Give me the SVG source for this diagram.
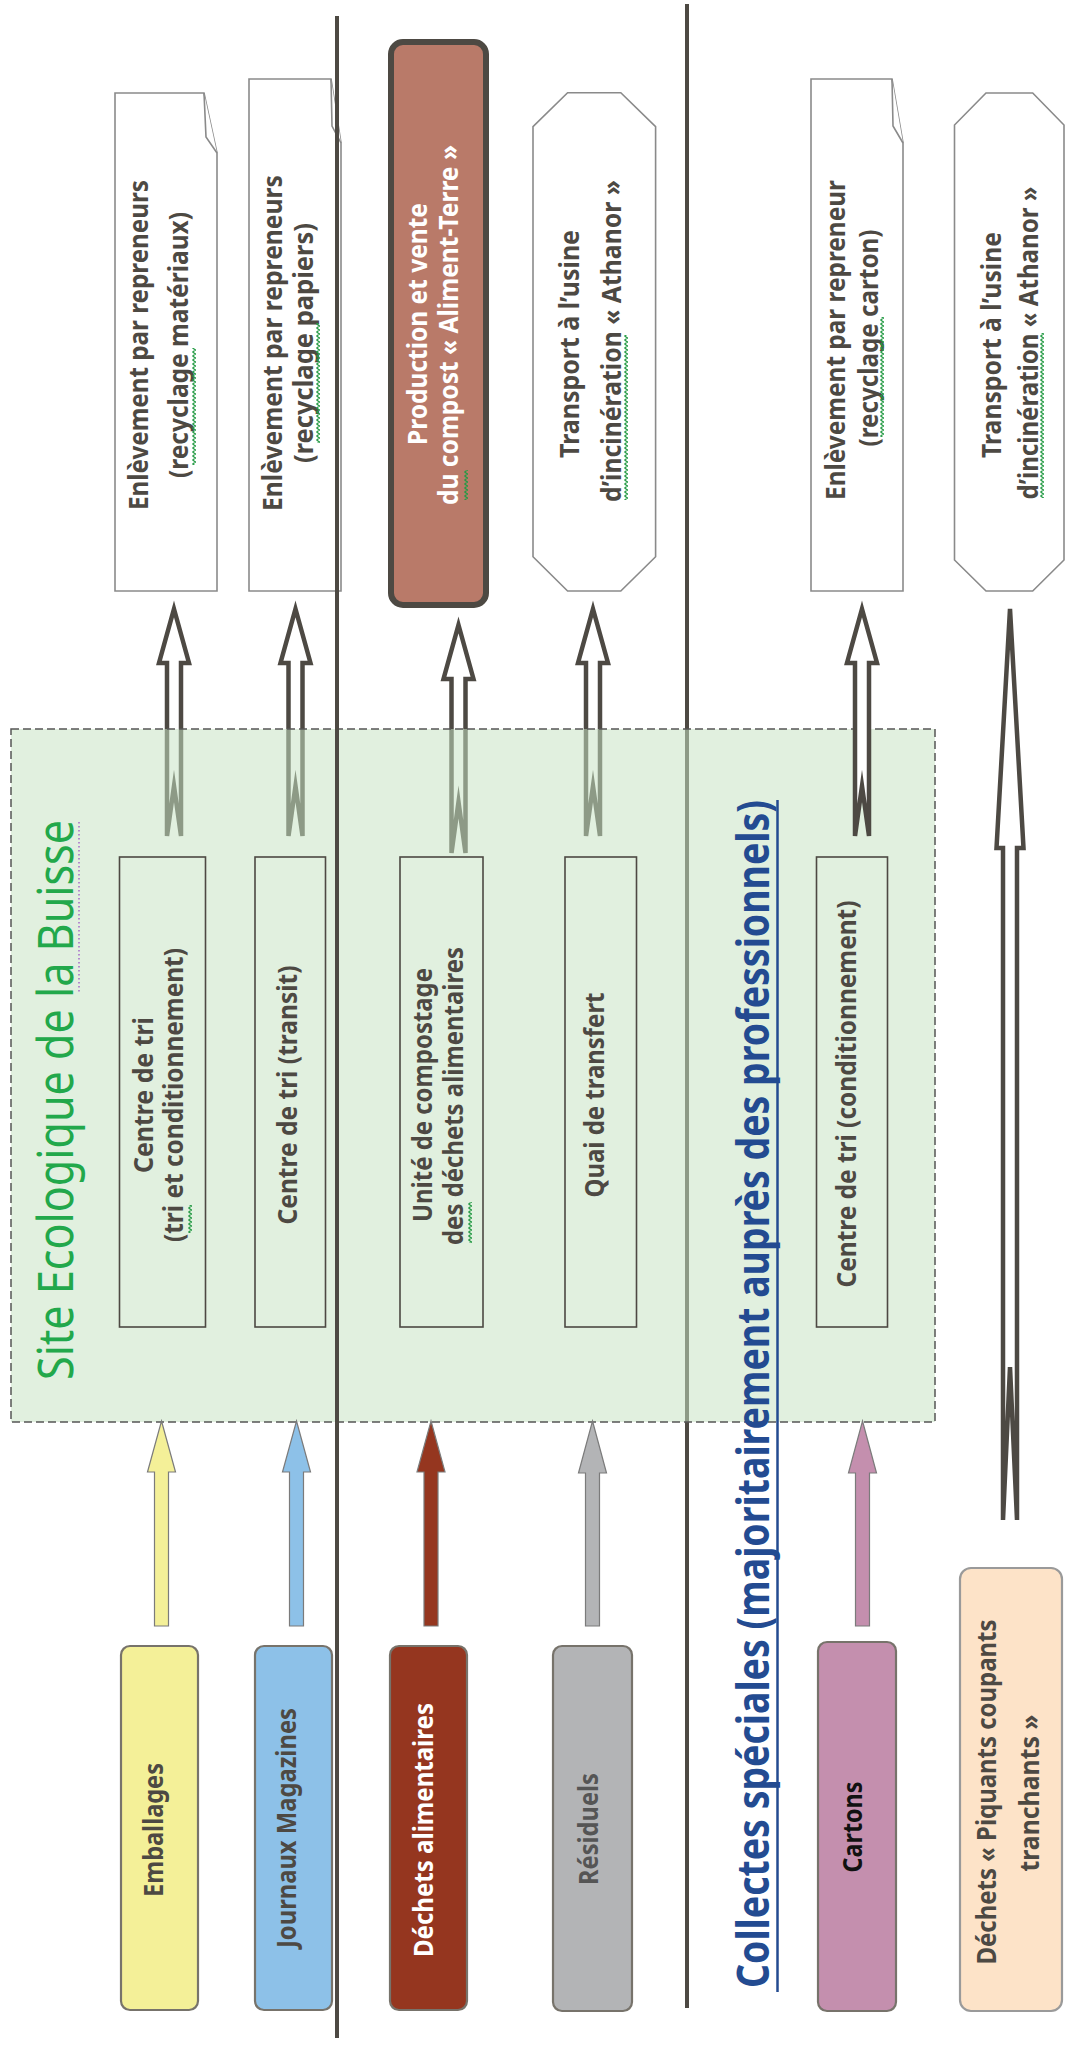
<svg xmlns="http://www.w3.org/2000/svg" width="1065" height="2045" viewBox="0 0 1065 2045">
<defs>
<style>
.lbl{font-family:"Noto Sans","Liberation Sans",sans-serif;font-weight:bold;font-size:27px;fill:#4d4943;text-anchor:middle}
.wt{fill:#ffffff}
.bk{fill:#111111}
.doc{fill:#ffffff;stroke:#8a8a8a;stroke-width:1.6;stroke-linejoin:miter}
.inner{fill:none;stroke:#4d4943;stroke-width:1.6}
.hollow{fill:#ffffff;stroke:#4d4943;stroke-width:4.5;stroke-linejoin:miter;stroke-miterlimit:10}
.src{stroke:#77736b;stroke-width:2.2}
.sarrow{stroke:#7b7b7b;stroke-width:1.2}
.sep{stroke:#4d4943;stroke-width:4}
.sq{fill:url(#wavy)}
</style>
<pattern id="wavy" patternUnits="userSpaceOnUse" width="4" height="4">
<path d="M0.5,0 L3.5,2 L0.5,4" fill="none" stroke="#239a43" stroke-width="1.2"/>
</pattern>
</defs>
<rect width="1065" height="2045" fill="#ffffff"/>

<g id="separator-2"><line class="sep" x1="687" y1="4" x2="687" y2="2008"/></g>

<g id="connectors">
<path class="hollow" d="M174,609 L189,663 L181,663 L181,836 L174,786 L167,836 L167,663 L159,663 Z"/>
<path class="hollow" d="M295.5,609 L310.5,663 L302.5,663 L302.5,836 L295.5,786 L288.5,836 L288.5,663 L280.5,663 Z"/>
<path class="hollow" d="M458.5,625 L473.5,679 L465.5,679 L465.5,853 L458.5,802 L451.5,853 L451.5,679 L443.5,679 Z"/>
<path class="hollow" d="M593,609 L608,663 L600,663 L600,836 L593,786 L586,836 L586,663 L578,663 Z"/>
</g>

<g id="site-ecologique">
<rect x="11" y="729" width="924" height="693" fill="#c6e3c2" fill-opacity="0.53" stroke="#555555" stroke-width="1.5" stroke-dasharray="8 4"/>
<text transform="translate(73,1100) rotate(-90)" textLength="560" lengthAdjust="spacingAndGlyphs" style="font-family:'Noto Sans','Liberation Sans',sans-serif;font-size:49px;fill:#22a84b;text-anchor:middle">Site Ecologique de la Buisse</text>
<line x1="79" y1="822" x2="79" y2="993" stroke="#a05ec8" stroke-width="1.4" stroke-dasharray="1.5 2.5"/>
</g>

<g id="connectors-top">
<path class="hollow" d="M862,609 L877,663 L869,663 L869,836 L862,786 L855,836 L855,663 L847,663 Z"/>
<path class="hollow" d="M1010,609 L1023.5,848 L1017,848 L1017,1520 L1010,1367 L1003,1520 L1003,848 L996.5,848 Z"/>
<path class="sarrow" fill="#f4f098" d="M161.5,1421 L175.5,1472 L168.5,1472 L168.5,1626 L154.5,1626 L154.5,1472 L147.5,1472 Z"/>
<path class="sarrow" fill="#8dc1e8" d="M296.5,1421 L310.5,1472 L303.5,1472 L303.5,1626 L289.5,1626 L289.5,1472 L282.5,1472 Z"/>
<path class="sarrow" fill="#95361f" d="M431,1421 L445,1472 L438,1472 L438,1626 L424,1626 L424,1472 L417,1472 Z"/>
<path class="sarrow" fill="#b3b4b6" d="M592.5,1421 L606.5,1473 L599.5,1473 L599.5,1626 L585.5,1626 L585.5,1473 L578.5,1473 Z"/>
<path class="sarrow" fill="#c48fae" d="M862.5,1421 L876.5,1473 L869.5,1473 L869.5,1626 L855.5,1626 L855.5,1473 L848.5,1473 Z"/>
</g>

<g id="doc-materiaux">
<path class="doc" d="M115,93 H204 L217,153 V591 H115 Z"/>
<path class="doc" d="M204,93 L206,137 L217,153"/>
<text class="lbl" transform="translate(148,345) rotate(-90)" textLength="330" lengthAdjust="spacingAndGlyphs">Enlèvement par repreneurs</text>
<text class="lbl" transform="translate(188,345) rotate(-90)" textLength="266" lengthAdjust="spacingAndGlyphs">(recyclage matériaux)</text>
</g>
<g id="doc-papiers">
<path class="doc" d="M249,79 H331 L341,143 V591 H249 Z"/>
<path class="doc" d="M331,79 L332,126 L341,143"/>
<text class="lbl" transform="translate(282,343) rotate(-90)" textLength="336" lengthAdjust="spacingAndGlyphs">Enlèvement par repreneurs</text>
<text class="lbl" transform="translate(313,343) rotate(-90)" textLength="240" lengthAdjust="spacingAndGlyphs">(recyclage papiers)</text>
</g>
<g id="production-compost">
<rect x="391" y="42" width="95" height="563" rx="12" fill="#b97a69" stroke="#4d4943" stroke-width="6"/>
<text class="lbl wt" transform="translate(427,324) rotate(-90)" textLength="242" lengthAdjust="spacingAndGlyphs">Production et vente</text>
<text class="lbl wt" transform="translate(458,325) rotate(-90)" textLength="360" lengthAdjust="spacingAndGlyphs">du compost « Aliment-Terre »</text>
</g>
<g id="transport-athanor-1">
<polygon class="doc" points="567.6,92.7 620.8,92.7 655.6,126.7 655.6,556.7 620.8,591 567.6,591 533,556.7 533,126.7"/>
<text class="lbl" transform="translate(579,344) rotate(-90)" textLength="228" lengthAdjust="spacingAndGlyphs">Transport à l’usine</text>
<text class="lbl" transform="translate(621,341) rotate(-90)" textLength="322" lengthAdjust="spacingAndGlyphs">d’incinération « Athanor »</text>
</g>
<g id="doc-carton">
<path class="doc" d="M811,79 H892 L903,143 V591 H811 Z"/>
<path class="doc" d="M892,79 L893,126 L903,143"/>
<text class="lbl" transform="translate(845,340) rotate(-90)" textLength="320" lengthAdjust="spacingAndGlyphs">Enlèvement par repreneur</text>
<text class="lbl" transform="translate(878,338) rotate(-90)" textLength="217" lengthAdjust="spacingAndGlyphs">(recyclage carton)</text>
</g>
<g id="transport-athanor-2">
<polygon class="doc" points="986,93 1032.7,93 1064,125 1064,560 1032.7,591 986,591 954.5,560 954.5,125"/>
<text class="lbl" transform="translate(1001,345) rotate(-90)" textLength="226" lengthAdjust="spacingAndGlyphs">Transport à l’usine</text>
<text class="lbl" transform="translate(1038,343) rotate(-90)" textLength="313" lengthAdjust="spacingAndGlyphs">d’incinération « Athanor »</text>
</g>

<g id="centre-tri-conditionnement">
<rect class="inner" x="119.5" y="857" width="86" height="470"/>
<text class="lbl" transform="translate(153,1095) rotate(-90)" textLength="156" lengthAdjust="spacingAndGlyphs">Centre de tri</text>
<text class="lbl" transform="translate(183,1095) rotate(-90)" textLength="294" lengthAdjust="spacingAndGlyphs">(tri et conditionnement)</text>
</g>
<g id="centre-tri-transit">
<rect class="inner" x="255" y="857" width="70.5" height="470"/>
<text class="lbl" transform="translate(297,1095) rotate(-90)" textLength="259" lengthAdjust="spacingAndGlyphs">Centre de tri (transit)</text>
</g>
<g id="unite-compostage">
<rect class="inner" x="400" y="857" width="83" height="470"/>
<text class="lbl" transform="translate(432,1095) rotate(-90)" textLength="254" lengthAdjust="spacingAndGlyphs">Unité de compostage</text>
<text class="lbl" transform="translate(463,1096) rotate(-90)" textLength="298" lengthAdjust="spacingAndGlyphs">des déchets alimentaires</text>
</g>
<g id="quai-transfert">
<rect class="inner" x="565" y="857" width="71.5" height="470"/>
<text class="lbl" transform="translate(604,1095) rotate(-90)" textLength="205" lengthAdjust="spacingAndGlyphs">Quai de transfert</text>
</g>
<g id="centre-tri-carton">
<rect class="inner" x="816.5" y="857" width="71" height="470"/>
<text class="lbl" transform="translate(856,1094) rotate(-90)" textLength="387" lengthAdjust="spacingAndGlyphs">Centre de tri (conditionnement)</text>
</g>

<g id="src-emballages">
<rect class="src" x="121" y="1646" width="77" height="364" rx="9" fill="#f4f098"/>
<text class="lbl" transform="translate(163,1830) rotate(-90)" textLength="134" lengthAdjust="spacingAndGlyphs">Emballages</text>
</g>
<g id="src-journaux">
<rect class="src" x="255" y="1646" width="77" height="364" rx="9" fill="#8dc1e8"/>
<text class="lbl" transform="translate(296,1828) rotate(-90)" textLength="240" lengthAdjust="spacingAndGlyphs">Journaux Magazines</text>
</g>
<g id="src-alimentaires">
<rect class="src" x="390" y="1646" width="77" height="364" rx="9" fill="#95361f"/>
<text class="lbl wt" transform="translate(433,1830) rotate(-90)" textLength="254" lengthAdjust="spacingAndGlyphs">Déchets alimentaires</text>
</g>
<g id="src-residuels">
<rect class="src" x="553" y="1646" width="79" height="365" rx="9" fill="#b3b4b6"/>
<text class="lbl" transform="translate(598,1829) rotate(-90)" textLength="112" lengthAdjust="spacingAndGlyphs" style="fill:#555555">Résiduels</text>
</g>
<g id="src-cartons">
<rect class="src" x="818" y="1642" width="78" height="369" rx="9" fill="#c48fae"/>
<text class="lbl bk" transform="translate(862,1827) rotate(-90)" textLength="91" lengthAdjust="spacingAndGlyphs">Cartons</text>
</g>
<g id="src-piquants">
<rect x="960" y="1568" width="102" height="443" rx="11" fill="#fde3c8" stroke="#9a9a9a" stroke-width="2.2"/>
<text class="lbl" transform="translate(996,1792) rotate(-90)" textLength="345" lengthAdjust="spacingAndGlyphs">Déchets « Piquants coupants</text>
<text class="lbl" transform="translate(1039,1793) rotate(-90)" textLength="157" lengthAdjust="spacingAndGlyphs">tranchants »</text>
</g>

<g id="separator-1"><line class="sep" x1="337" y1="16" x2="337" y2="2038"/></g>

<g id="collectes-speciales">
<text transform="translate(769,1394) rotate(-90)" textLength="1188" lengthAdjust="spacingAndGlyphs" style="font-family:'Noto Sans','Liberation Sans',sans-serif;font-weight:bold;font-size:45px;fill:#234b91;text-anchor:middle">Collectes spéciales (majoritairement auprès des professionnels)</text>
<line x1="777.5" y1="800" x2="777.5" y2="1992" stroke="#234b91" stroke-width="2.5"/>
</g>

<g id="spellcheck-marks">
<rect class="sq" x="192" y="348" width="4" height="117"/>
<rect class="sq" x="316" y="323" width="4" height="120"/>
<rect class="sq" x="464" y="470" width="4" height="30"/>
<rect class="sq" x="624" y="335" width="4" height="165"/>
<rect class="sq" x="880" y="317" width="4" height="120"/>
<rect class="sq" x="1040" y="333" width="4" height="165"/>
<rect class="sq" x="188" y="1205" width="4" height="28"/>
<rect class="sq" x="468" y="1202" width="4" height="41"/>
</g>
</svg>
